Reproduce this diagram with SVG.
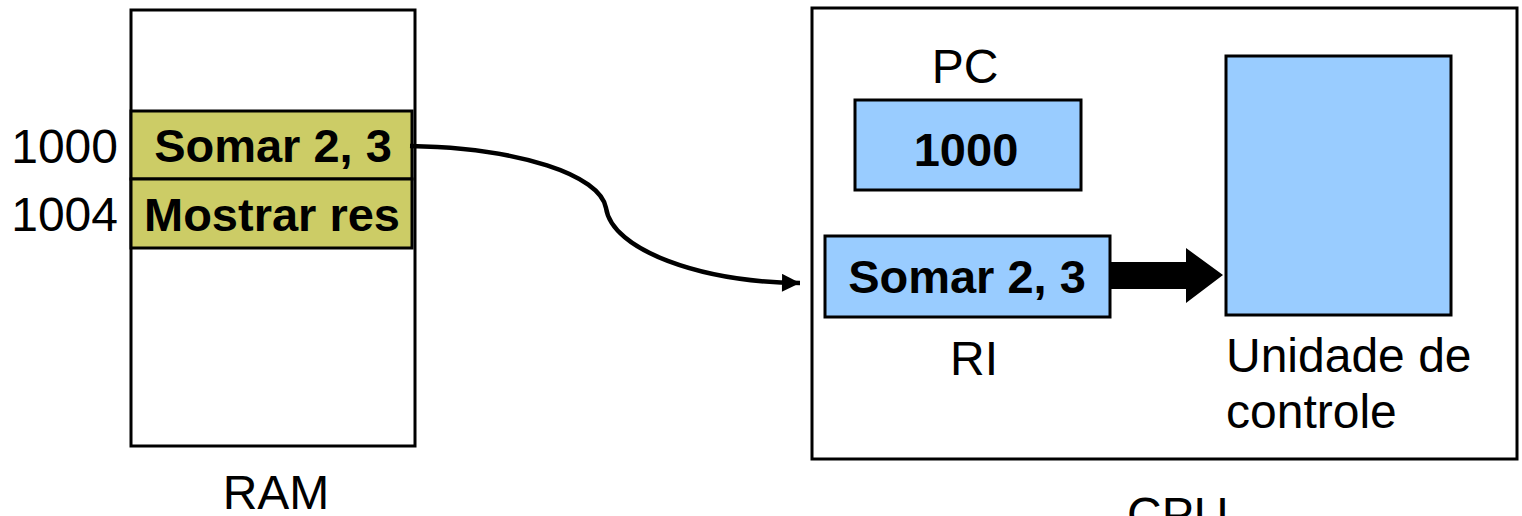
<svg xmlns="http://www.w3.org/2000/svg" width="1522" height="516" viewBox="0 0 1522 516">
<style>
.box{fill:#fff;stroke:#000;stroke-width:3}
.cell{fill:#CCCC66;stroke:#000;stroke-width:3}
.reg{fill:#99CCFF;stroke:#000;stroke-width:3}
.t{font-family:"Liberation Sans",Arial,sans-serif;font-size:48px;fill:#000}
.b{font-family:"Liberation Sans",Arial,sans-serif;font-size:47px;font-weight:bold;fill:#000}
.conn{fill:none;stroke:#000;stroke-width:4.5}
</style>
<defs>
<marker id="ah" viewBox="0 0 10 10" refX="10" refY="5" markerWidth="20" markerHeight="18" orient="auto" markerUnits="userSpaceOnUse">
<path d="M0,0 L10,5 L0,10 z" fill="#000"/>
</marker>
</defs>
<g id="ram">
<rect class="box" x="131" y="10" width="284" height="436"/>
<rect class="cell" x="131" y="111" width="281" height="68"/>
<rect class="cell" x="131" y="179" width="281" height="69"/>
<text class="b" x="273" y="162" text-anchor="middle">Somar 2, 3</text>
<text class="b" x="272" y="231" text-anchor="middle">Mostrar res</text>
<text class="t" x="118" y="163" text-anchor="end">1000</text>
<text class="t" x="118" y="231" text-anchor="end">1004</text>
<text class="t" x="276" y="509" text-anchor="middle">RAM</text>
</g>
<g id="cpu">
<rect class="box" x="812" y="8" width="705" height="451" stroke-width="2"/>
<text class="t" x="1127" y="531">CPU</text>
</g>
<g id="pc">
<text class="t" x="965" y="83" text-anchor="middle">PC</text>
<rect class="reg" x="855" y="100" width="226" height="90"/>
<text class="b" x="966" y="166" text-anchor="middle">1000</text>
</g>
<g id="ri">
<rect class="reg" x="825" y="236" width="285" height="81"/>
<text class="b" x="967" y="293" text-anchor="middle">Somar 2, 3</text>
<text class="t" x="974" y="375" text-anchor="middle">RI</text>
</g>
<g id="uc">
<rect class="reg" x="1226" y="56" width="225" height="259"/>
<text class="t" x="1226" y="372">Unidade de</text>
<text class="t" x="1226" y="428">controle</text>
</g>
<g id="connectors">
<path class="conn" d="M410 146 C520 148 600 175 606 208 C612 250 700 282 800 283" marker-end="url(#ah)"/>
<polygon points="1110,262 1186,262 1186,248 1223,275 1186,303 1186,289 1110,289" fill="#000"/>
</g>
</svg>
